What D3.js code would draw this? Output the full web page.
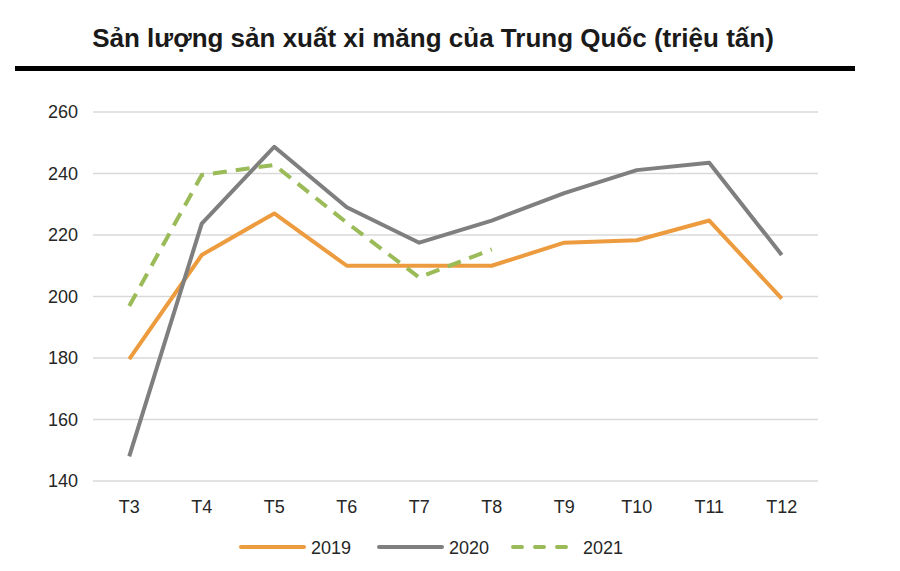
<!DOCTYPE html>
<html>
<head>
<meta charset="utf-8">
<script src="https://cdn.jsdelivr.net/npm/d3@7"></script>
<style>
  body { margin: 0; background: #fff; }
  text { font-family: "Liberation Sans", Arial, sans-serif; }
</style>
</head>
<body>
<svg width="900" height="571"></svg>
<script>
// data
var months = ["T3", "T4", "T5", "T6", "T7", "T8", "T9", "T10", "T11", "T12"];
var values2019 = [179.6, 213.5, 227, 210, 210, 210, 217.5, 218.3, 224.7, 199.3];
var values2020 = [148, 223.7, 248.7, 229, 217.5, 224.7, 233.6, 241.1, 243.5, 213.5];
var values2021 = [196.9, 239.5, 242.8, 224, 206.2, 215.3];
var yTicks = [140, 160, 180, 200, 220, 240, 260];
var seriesNames = ["2019", "2020", "2021"];

var svg = d3.select("svg");

// title + thick rule under it
svg.append("text")
    .attr("x", 433).attr("y", 47)
    .attr("text-anchor", "middle")
    .attr("font-size", 26).attr("font-weight", "bold")
    .attr("fill", "#1a1a1a")
    .text("Sản lượng sản xuất xi măng của Trung Quốc (triệu tấn)");
svg.append("rect")
    .attr("x", 15).attr("y", 66)
    .attr("width", 840).attr("height", 5)
    .attr("fill", "#000");

// scales
var scX = d3.scaleBand().domain(months).range([93, 818]);
var scY = d3.scaleLinear().domain([140, 260]).range([481, 112]);

// gridlines
var grid = svg.append("g");
grid.selectAll("line").data(yTicks).enter()
    .append("line")
    .attr("x1", 93).attr("x2", 818)
    .attr("y1", d => scY(d)).attr("y2", d => scY(d))
    .attr("stroke", "#d9d9d9").attr("stroke-width", 1.3);

// axes, drawn without domain lines or ticks
var yAx = svg.append("g")
    .attr("transform", "translate(93,0)")
    .call(d3.axisLeft(scY).tickValues(yTicks).tickSize(0).tickPadding(15));
var xAx = svg.append("g")
    .attr("transform", "translate(0,481)")
    .call(d3.axisBottom(scX).tickSize(0).tickPadding(19));
[yAx, xAx].forEach(function(ax) {
    ax.select(".domain").remove();
    ax.selectAll("text")
        .attr("font-size", 18)
        .attr("fill", "#262626")
        .style("font-family", "'Liberation Sans', Arial, sans-serif");
});

// lines
var lnMkr = d3.line()
    .x((d, i) => scX(months[i]) + scX.bandwidth() / 2)
    .y(d => scY(d));

var styles = [
    { data: values2019, color: "#ED9B3F", dash: null },
    { data: values2020, color: "#7F7F7F", dash: null },
    { data: values2021, color: "#9BBB59", dash: "14,9" }
];

svg.append("g").selectAll("path")
    .data(styles).enter()
    .append("path")
    .attr("fill", "none")
    .attr("stroke", d => d.color)
    .attr("stroke-width", 4)
    .attr("stroke-linejoin", "round")
    .attr("stroke-dasharray", d => d.dash)
    .attr("d", d => lnMkr(d.data));

// legend
var legX = [240, 378, 512];
var leg = svg.append("g").selectAll("g")
    .data(styles).enter()
    .append("g")
    .attr("transform", (d, i) => "translate(" + legX[i] + ",547)");
leg.append("line")
    .attr("x1", 1).attr("x2", (d, i) => i == 2 ? 59 : 64)
    .attr("y1", 0).attr("y2", 0)
    .attr("stroke", d => d.color)
    .attr("stroke-width", 4)
    .attr("stroke-linecap", "round")
    .attr("stroke-dasharray", d => d.dash ? "9,13" : null);
leg.append("text")
    .attr("x", 71)
    .attr("y", 7)
    .attr("font-size", 18)
    .attr("fill", "#262626")
    .text((d, i) => seriesNames[i]);
</script>
</body>
</html>
